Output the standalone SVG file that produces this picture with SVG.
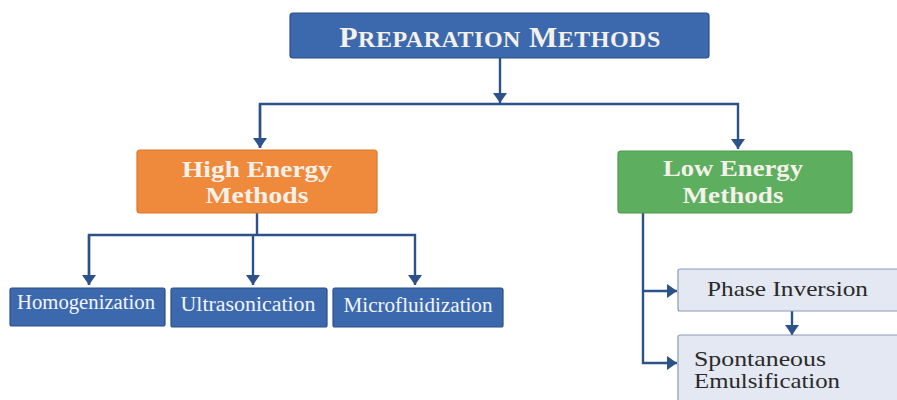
<svg xmlns="http://www.w3.org/2000/svg" width="897" height="400" viewBox="0 0 897 400">
<style>
.blue{fill:#3C69AD;stroke:#2B4F86;stroke-width:1.2}
.orange{fill:#EF8A3C;stroke:#D9772C;stroke-width:1.2}
.green{fill:#5DAE5E;stroke:#4A9A4C;stroke-width:1.2}
.light{fill:#E3E8F2;stroke:#8C9AB5;stroke-width:1.2}
.head{font-family:"Liberation Serif",serif;font-weight:bold;fill:#F4F0EA;text-anchor:middle}
.wt{font-family:"Liberation Serif",serif;font-size:20px;fill:#F2F4F8;text-anchor:middle}
.dt{font-family:"Liberation Serif",serif;font-size:21px;fill:#2A2A2A}
.conn{fill:none;stroke:#2D5189;stroke-width:2.4}
</style>
<defs>
<marker id="ah" markerUnits="userSpaceOnUse" markerWidth="11" markerHeight="15" viewBox="0 0 11 15" refX="10" refY="7.5" orient="auto">
<path d="M0,0.5 L10,7.5 L0,14.5 Z" fill="#2D5189"/>
</marker>
</defs>
<rect width="897" height="400" fill="#FFFFFF"/>

<g id="connectors">
<path class="conn" d="M500,58 V103" marker-end="url(#ah)"/>
<path class="conn" d="M260,148 V104 H738 V149" marker-end="url(#ah)"/>
<path class="conn" d="M260,104 V148" marker-end="url(#ah)"/>
<path class="conn" d="M257,213 V235"/>
<path class="conn" d="M89,285 V235 H415 V285" marker-end="url(#ah)"/>
<path class="conn" d="M89,235 V285" marker-end="url(#ah)"/>
<path class="conn" d="M253,235 V285" marker-end="url(#ah)"/>
<path class="conn" d="M643,213 V363 H677" marker-end="url(#ah)"/>
<path class="conn" d="M643,291 H677" marker-end="url(#ah)"/>
<path class="conn" d="M792,311 V335" marker-end="url(#ah)"/>
</g>

<g id="preparation-methods">
<rect class="blue" x="290" y="13" width="419" height="45" rx="3"/>
<text class="head" x="500" y="47" letter-spacing="0.5"><tspan font-size="30">P</tspan><tspan font-size="24">REPARATION</tspan><tspan font-size="30"> M</tspan><tspan font-size="24">ETHODS</tspan></text>
</g>

<g id="high-energy">
<rect class="orange" x="137" y="150" width="240" height="63" rx="3"/>
<text class="head" font-size="24" x="257" y="177" textLength="150" lengthAdjust="spacingAndGlyphs">High Energy</text>
<text class="head" font-size="24" x="257" y="203" textLength="103" lengthAdjust="spacingAndGlyphs">Methods</text>
</g>

<g id="low-energy">
<rect class="green" x="618" y="151" width="234" height="62" rx="3"/>
<text class="head" font-size="24" x="733" y="176" textLength="140" lengthAdjust="spacingAndGlyphs">Low Energy</text>
<text class="head" font-size="24" x="733" y="203" textLength="101" lengthAdjust="spacingAndGlyphs">Methods</text>
</g>

<g id="homogenization">
<rect class="blue" x="10" y="288" width="155" height="38" rx="2"/>
<text class="wt" x="86" y="309" textLength="138" lengthAdjust="spacingAndGlyphs">Homogenization</text>
</g>

<g id="ultrasonication">
<rect class="blue" x="171" y="288" width="156" height="39" rx="2"/>
<text class="wt" x="248" y="311" textLength="135" lengthAdjust="spacingAndGlyphs">Ultrasonication</text>
</g>

<g id="microfluidization">
<rect class="blue" x="333" y="288" width="170" height="39" rx="2"/>
<text class="wt" x="418" y="312" textLength="149" lengthAdjust="spacingAndGlyphs">Microfluidization</text>
</g>

<g id="phase-inversion">
<rect class="light" x="678" y="269" width="230" height="42" rx="2"/>
<text class="dt" x="707" y="296" textLength="161" lengthAdjust="spacingAndGlyphs">Phase Inversion</text>
</g>

<g id="spontaneous-emulsification">
<rect class="light" x="678" y="335" width="230" height="80" rx="2"/>
<text class="dt" x="694" y="366" textLength="132" lengthAdjust="spacingAndGlyphs">Spontaneous</text>
<text class="dt" x="694" y="388" textLength="146" lengthAdjust="spacingAndGlyphs">Emulsification</text>
</g>
</svg>
